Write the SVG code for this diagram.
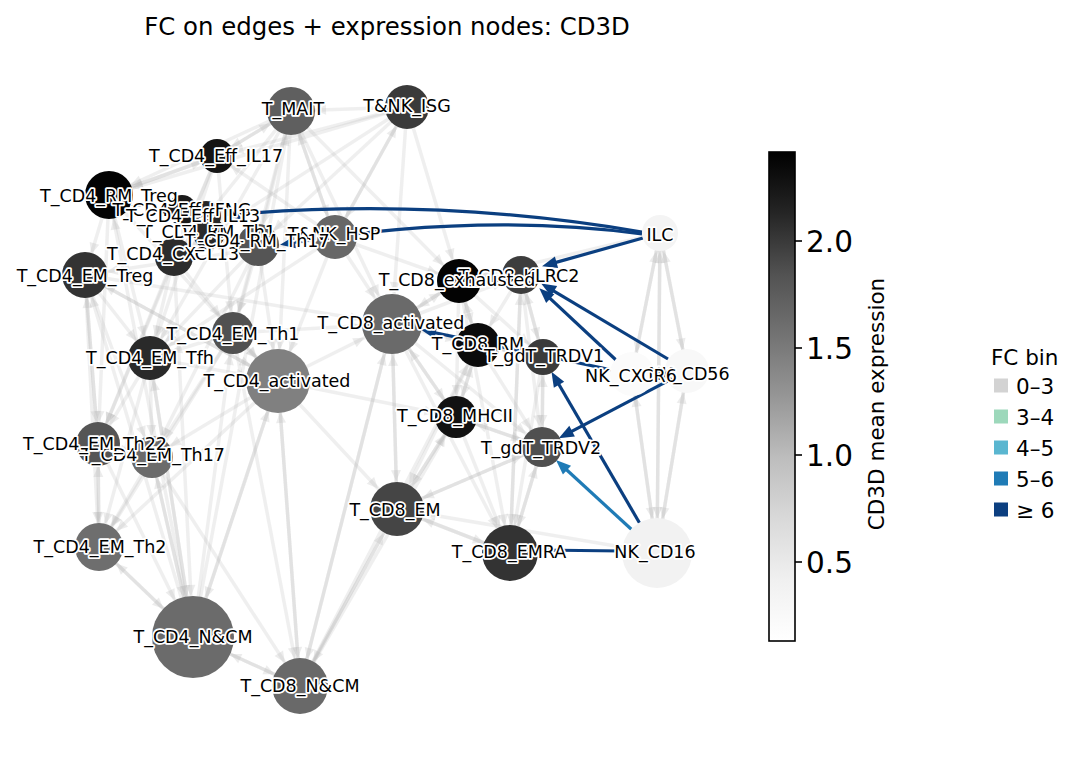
<svg xmlns="http://www.w3.org/2000/svg" width="1085" height="763" viewBox="0 0 1085 763">
<defs>
<style>
.g{stroke:#b4b4b4;stroke-opacity:.22;stroke-width:3.5;fill:none}
.b6{stroke:#0b3f80;stroke-width:3.2;fill:none}
.b5{stroke:#1f7bb6;stroke-width:3.2;fill:none}
.lbl{font-family:"DejaVu Sans",sans-serif;font-size:17.5px;text-anchor:middle;fill:#000;stroke:#fff;stroke-width:3.5;paint-order:stroke;stroke-linejoin:round}
.t{font-family:"DejaVu Sans",sans-serif;fill:#000}
.gh{fill:#b4b4b4;fill-opacity:.25}
</style>
<linearGradient id="greys" x1="0" y1="0" x2="0" y2="1">
<stop offset="0" stop-color="#000000"/><stop offset=".125" stop-color="#252525"/><stop offset=".25" stop-color="#525252"/><stop offset=".375" stop-color="#737373"/><stop offset=".5" stop-color="#969696"/><stop offset=".625" stop-color="#bdbdbd"/><stop offset=".75" stop-color="#d9d9d9"/><stop offset=".875" stop-color="#f0f0f0"/><stop offset="1" stop-color="#ffffff"/>
</linearGradient>
<marker id="m16" markerUnits="userSpaceOnUse" markerWidth="60" markerHeight="12" refX="27" refY="5" orient="auto" overflow="visible"><path class="gh" d="M0,0 L11,5 L0,10z"/></marker>
<marker id="m19" markerUnits="userSpaceOnUse" markerWidth="60" markerHeight="12" refX="30" refY="5" orient="auto" overflow="visible"><path class="gh" d="M0,0 L11,5 L0,10z"/></marker>
<marker id="m21" markerUnits="userSpaceOnUse" markerWidth="60" markerHeight="12" refX="32" refY="5" orient="auto" overflow="visible"><path class="gh" d="M0,0 L11,5 L0,10z"/></marker>
<marker id="m22" markerUnits="userSpaceOnUse" markerWidth="60" markerHeight="12" refX="33" refY="5" orient="auto" overflow="visible"><path class="gh" d="M0,0 L11,5 L0,10z"/></marker>
<marker id="m24" markerUnits="userSpaceOnUse" markerWidth="60" markerHeight="12" refX="35" refY="5" orient="auto" overflow="visible"><path class="gh" d="M0,0 L11,5 L0,10z"/></marker>
<marker id="m28" markerUnits="userSpaceOnUse" markerWidth="60" markerHeight="12" refX="39" refY="5" orient="auto" overflow="visible"><path class="gh" d="M0,0 L11,5 L0,10z"/></marker>
<marker id="m31" markerUnits="userSpaceOnUse" markerWidth="60" markerHeight="12" refX="42" refY="5" orient="auto" overflow="visible"><path class="gh" d="M0,0 L11,5 L0,10z"/></marker>
<marker id="m35" markerUnits="userSpaceOnUse" markerWidth="60" markerHeight="12" refX="46" refY="5" orient="auto" overflow="visible"><path class="gh" d="M0,0 L11,5 L0,10z"/></marker>
<marker id="m41" markerUnits="userSpaceOnUse" markerWidth="60" markerHeight="12" refX="52" refY="5" orient="auto" overflow="visible"><path class="gh" d="M0,0 L11,5 L0,10z"/></marker>
<marker id="a6" markerUnits="userSpaceOnUse" markerWidth="20" markerHeight="14" refX="8" refY="6" orient="auto" overflow="visible"><path d="M0,0 L15,6 L0,12z" fill="#0b3f80"/></marker>
<marker id="a5" markerUnits="userSpaceOnUse" markerWidth="20" markerHeight="14" refX="8" refY="6" orient="auto" overflow="visible"><path d="M0,0 L15,6 L0,12z" fill="#1f7bb6"/></marker>
</defs>
<rect width="1085" height="763" fill="#fff"/>
<text class="t" x="387" y="35" font-size="24.4" text-anchor="middle">FC on edges + expression nodes: CD3D</text>

<g id="connectors">
<g id="bg-edges">
<line class="g" x1="291" y1="111" x2="217" y2="156" marker-end="url(#m16)"/>
<line class="g" x1="291" y1="111" x2="109" y2="195" marker-end="url(#m24)"/>
<line class="g" x1="291" y1="111" x2="174" y2="257" marker-end="url(#m19)"/>
<line class="g" x1="291" y1="111" x2="258" y2="245" marker-end="url(#m21)"/>
<line class="g" x1="291" y1="111" x2="335" y2="237" marker-end="url(#m22)"/>
<line class="g" x1="291" y1="111" x2="233" y2="333" marker-end="url(#m21)"/>
<line class="g" x1="291" y1="111" x2="278" y2="381" marker-end="url(#m31)"/>
<line class="g" x1="291" y1="111" x2="150" y2="358" marker-end="url(#m22)"/>
<line class="g" x1="291" y1="111" x2="392" y2="324" marker-end="url(#m31)"/>
<line class="g" x1="291" y1="111" x2="459" y2="281" marker-end="url(#m22)"/>
<line class="g" x1="407" y1="107" x2="291" y2="111" marker-end="url(#m24)"/>
<line class="g" x1="407" y1="107" x2="335" y2="237" marker-end="url(#m22)"/>
<line class="g" x1="407" y1="107" x2="258" y2="245" marker-end="url(#m21)"/>
<line class="g" x1="407" y1="107" x2="392" y2="324" marker-end="url(#m31)"/>
<line class="g" x1="407" y1="107" x2="459" y2="281" marker-end="url(#m22)"/>
<line class="g" x1="407" y1="107" x2="217" y2="156" marker-end="url(#m16)"/>
<line class="g" x1="407" y1="107" x2="174" y2="257" marker-end="url(#m19)"/>
<line class="g" x1="407" y1="107" x2="109" y2="195" marker-end="url(#m24)"/>
<line class="g" x1="335" y1="237" x2="291" y2="111" marker-end="url(#m24)"/>
<line class="g" x1="335" y1="237" x2="407" y2="107" marker-end="url(#m22)"/>
<line class="g" x1="335" y1="237" x2="392" y2="324" marker-end="url(#m31)"/>
<line class="g" x1="335" y1="237" x2="459" y2="281" marker-end="url(#m22)"/>
<line class="g" x1="335" y1="237" x2="217" y2="156" marker-end="url(#m16)"/>
<line class="g" x1="335" y1="237" x2="85" y2="275" marker-end="url(#m22)"/>
<line class="g" x1="335" y1="237" x2="278" y2="381" marker-end="url(#m31)"/>
<line class="g" x1="335" y1="237" x2="150" y2="358" marker-end="url(#m22)"/>
<line class="g" x1="217" y1="156" x2="109" y2="195" marker-end="url(#m24)"/>
<line class="g" x1="217" y1="156" x2="174" y2="257" marker-end="url(#m19)"/>
<line class="g" x1="217" y1="156" x2="233" y2="333" marker-end="url(#m21)"/>
<line class="g" x1="217" y1="156" x2="150" y2="358" marker-end="url(#m22)"/>
<line class="g" x1="217" y1="156" x2="98" y2="444" marker-end="url(#m22)"/>
<line class="g" x1="217" y1="156" x2="291" y2="111" marker-end="url(#m24)"/>
<line class="g" x1="109" y1="195" x2="85" y2="275" marker-end="url(#m22)"/>
<line class="g" x1="109" y1="195" x2="150" y2="358" marker-end="url(#m22)"/>
<line class="g" x1="109" y1="195" x2="98" y2="444" marker-end="url(#m22)"/>
<line class="g" x1="109" y1="195" x2="278" y2="381" marker-end="url(#m31)"/>
<line class="g" x1="109" y1="195" x2="217" y2="156" marker-end="url(#m16)"/>
<line class="g" x1="85" y1="275" x2="98" y2="444" marker-end="url(#m22)"/>
<line class="g" x1="85" y1="275" x2="150" y2="358" marker-end="url(#m22)"/>
<line class="g" x1="85" y1="275" x2="152" y2="457" marker-end="url(#m21)"/>
<line class="g" x1="85" y1="275" x2="99" y2="547" marker-end="url(#m24)"/>
<line class="g" x1="85" y1="275" x2="278" y2="381" marker-end="url(#m31)"/>
<line class="g" x1="85" y1="275" x2="392" y2="324" marker-end="url(#m31)"/>
<line class="g" x1="174" y1="257" x2="150" y2="358" marker-end="url(#m22)"/>
<line class="g" x1="174" y1="257" x2="98" y2="444" marker-end="url(#m22)"/>
<line class="g" x1="174" y1="257" x2="233" y2="333" marker-end="url(#m21)"/>
<line class="g" x1="174" y1="257" x2="193" y2="637" marker-end="url(#m41)"/>
<line class="g" x1="258" y1="245" x2="152" y2="457" marker-end="url(#m21)"/>
<line class="g" x1="258" y1="245" x2="150" y2="358" marker-end="url(#m22)"/>
<line class="g" x1="258" y1="245" x2="278" y2="381" marker-end="url(#m31)"/>
<line class="g" x1="258" y1="245" x2="233" y2="333" marker-end="url(#m21)"/>
<line class="g" x1="233" y1="333" x2="150" y2="358" marker-end="url(#m22)"/>
<line class="g" x1="233" y1="333" x2="152" y2="457" marker-end="url(#m21)"/>
<line class="g" x1="233" y1="333" x2="278" y2="381" marker-end="url(#m31)"/>
<line class="g" x1="233" y1="333" x2="99" y2="547" marker-end="url(#m24)"/>
<line class="g" x1="233" y1="333" x2="392" y2="324" marker-end="url(#m31)"/>
<line class="g" x1="233" y1="333" x2="300" y2="686" marker-end="url(#m28)"/>
<line class="g" x1="150" y1="358" x2="98" y2="444" marker-end="url(#m22)"/>
<line class="g" x1="150" y1="358" x2="152" y2="457" marker-end="url(#m21)"/>
<line class="g" x1="150" y1="358" x2="99" y2="547" marker-end="url(#m24)"/>
<line class="g" x1="150" y1="358" x2="193" y2="637" marker-end="url(#m41)"/>
<line class="g" x1="150" y1="358" x2="278" y2="381" marker-end="url(#m31)"/>
<line class="g" x1="278" y1="381" x2="152" y2="457" marker-end="url(#m21)"/>
<line class="g" x1="278" y1="381" x2="99" y2="547" marker-end="url(#m24)"/>
<line class="g" x1="278" y1="381" x2="193" y2="637" marker-end="url(#m41)"/>
<line class="g" x1="278" y1="381" x2="300" y2="686" marker-end="url(#m28)"/>
<line class="g" x1="278" y1="381" x2="392" y2="324" marker-end="url(#m31)"/>
<line class="g" x1="278" y1="381" x2="85" y2="275" marker-end="url(#m22)"/>
<line class="g" x1="278" y1="381" x2="397" y2="509" marker-end="url(#m28)"/>
<line class="g" x1="278" y1="381" x2="456" y2="417" marker-end="url(#m21)"/>
<line class="g" x1="98" y1="444" x2="99" y2="547" marker-end="url(#m24)"/>
<line class="g" x1="98" y1="444" x2="152" y2="457" marker-end="url(#m21)"/>
<line class="g" x1="98" y1="444" x2="193" y2="637" marker-end="url(#m41)"/>
<line class="g" x1="98" y1="444" x2="85" y2="275" marker-end="url(#m22)"/>
<line class="g" x1="152" y1="457" x2="99" y2="547" marker-end="url(#m24)"/>
<line class="g" x1="152" y1="457" x2="193" y2="637" marker-end="url(#m41)"/>
<line class="g" x1="152" y1="457" x2="300" y2="686" marker-end="url(#m28)"/>
<line class="g" x1="152" y1="457" x2="98" y2="444" marker-end="url(#m22)"/>
<line class="g" x1="99" y1="547" x2="193" y2="637" marker-end="url(#m41)"/>
<line class="g" x1="99" y1="547" x2="98" y2="444" marker-end="url(#m22)"/>
<line class="g" x1="193" y1="637" x2="300" y2="686" marker-end="url(#m28)"/>
<line class="g" x1="193" y1="637" x2="99" y2="547" marker-end="url(#m24)"/>
<line class="g" x1="193" y1="637" x2="150" y2="358" marker-end="url(#m22)"/>
<line class="g" x1="193" y1="637" x2="233" y2="333" marker-end="url(#m21)"/>
<line class="g" x1="193" y1="637" x2="278" y2="381" marker-end="url(#m31)"/>
<line class="g" x1="193" y1="637" x2="109" y2="195" marker-end="url(#m24)"/>
<line class="g" x1="193" y1="637" x2="85" y2="275" marker-end="url(#m22)"/>
<line class="g" x1="193" y1="637" x2="291" y2="111" marker-end="url(#m24)"/>
<line class="g" x1="193" y1="637" x2="152" y2="457" marker-end="url(#m21)"/>
<line class="g" x1="300" y1="686" x2="392" y2="324" marker-end="url(#m31)"/>
<line class="g" x1="300" y1="686" x2="397" y2="509" marker-end="url(#m28)"/>
<line class="g" x1="300" y1="686" x2="456" y2="417" marker-end="url(#m21)"/>
<line class="g" x1="300" y1="686" x2="278" y2="381" marker-end="url(#m31)"/>
<line class="g" x1="300" y1="686" x2="193" y2="637" marker-end="url(#m41)"/>
<line class="g" x1="300" y1="686" x2="478" y2="345" marker-end="url(#m22)"/>
<line class="g" x1="392" y1="324" x2="459" y2="281" marker-end="url(#m22)"/>
<line class="g" x1="392" y1="324" x2="478" y2="345" marker-end="url(#m22)"/>
<line class="g" x1="392" y1="324" x2="456" y2="417" marker-end="url(#m21)"/>
<line class="g" x1="392" y1="324" x2="397" y2="509" marker-end="url(#m28)"/>
<line class="g" x1="392" y1="324" x2="300" y2="686" marker-end="url(#m28)"/>
<line class="g" x1="392" y1="324" x2="510" y2="553" marker-end="url(#m28)"/>
<line class="g" x1="392" y1="324" x2="521" y2="275" marker-end="url(#m19)"/>
<line class="g" x1="392" y1="324" x2="542" y2="447" marker-end="url(#m21)"/>
<line class="g" x1="459" y1="281" x2="478" y2="345" marker-end="url(#m22)"/>
<line class="g" x1="459" y1="281" x2="521" y2="275" marker-end="url(#m19)"/>
<line class="g" x1="459" y1="281" x2="456" y2="417" marker-end="url(#m21)"/>
<line class="g" x1="459" y1="281" x2="392" y2="324" marker-end="url(#m31)"/>
<line class="g" x1="459" y1="281" x2="543" y2="357" marker-end="url(#m19)"/>
<line class="g" x1="459" y1="281" x2="510" y2="553" marker-end="url(#m28)"/>
<line class="g" x1="521" y1="275" x2="543" y2="357" marker-end="url(#m19)"/>
<line class="g" x1="521" y1="275" x2="478" y2="345" marker-end="url(#m22)"/>
<line class="g" x1="521" y1="275" x2="459" y2="281" marker-end="url(#m22)"/>
<line class="g" x1="521" y1="275" x2="542" y2="447" marker-end="url(#m21)"/>
<line class="g" x1="521" y1="275" x2="510" y2="553" marker-end="url(#m28)"/>
<line class="g" x1="478" y1="345" x2="456" y2="417" marker-end="url(#m21)"/>
<line class="g" x1="478" y1="345" x2="543" y2="357" marker-end="url(#m19)"/>
<line class="g" x1="478" y1="345" x2="397" y2="509" marker-end="url(#m28)"/>
<line class="g" x1="478" y1="345" x2="459" y2="281" marker-end="url(#m22)"/>
<line class="g" x1="478" y1="345" x2="542" y2="447" marker-end="url(#m21)"/>
<line class="g" x1="543" y1="357" x2="542" y2="447" marker-end="url(#m21)"/>
<line class="g" x1="543" y1="357" x2="521" y2="275" marker-end="url(#m19)"/>
<line class="g" x1="543" y1="357" x2="510" y2="553" marker-end="url(#m28)"/>
<line class="g" x1="543" y1="357" x2="478" y2="345" marker-end="url(#m22)"/>
<line class="g" x1="456" y1="417" x2="397" y2="509" marker-end="url(#m28)"/>
<line class="g" x1="456" y1="417" x2="510" y2="553" marker-end="url(#m28)"/>
<line class="g" x1="456" y1="417" x2="478" y2="345" marker-end="url(#m22)"/>
<line class="g" x1="456" y1="417" x2="542" y2="447" marker-end="url(#m21)"/>
<line class="g" x1="456" y1="417" x2="392" y2="324" marker-end="url(#m31)"/>
<line class="g" x1="542" y1="447" x2="510" y2="553" marker-end="url(#m28)"/>
<line class="g" x1="542" y1="447" x2="397" y2="509" marker-end="url(#m28)"/>
<line class="g" x1="542" y1="447" x2="543" y2="357" marker-end="url(#m19)"/>
<line class="g" x1="542" y1="447" x2="456" y2="417" marker-end="url(#m21)"/>
<line class="g" x1="397" y1="509" x2="510" y2="553" marker-end="url(#m28)"/>
<line class="g" x1="397" y1="509" x2="392" y2="324" marker-end="url(#m31)"/>
<line class="g" x1="397" y1="509" x2="456" y2="417" marker-end="url(#m21)"/>
<line class="g" x1="397" y1="509" x2="300" y2="686" marker-end="url(#m28)"/>
<line class="g" x1="397" y1="509" x2="542" y2="447" marker-end="url(#m21)"/>
<line class="g" x1="510" y1="553" x2="397" y2="509" marker-end="url(#m28)"/>
<line class="g" x1="510" y1="553" x2="542" y2="447" marker-end="url(#m21)"/>
<line class="g" x1="510" y1="553" x2="521" y2="275" marker-end="url(#m19)"/>
<line class="g" x1="660" y1="233" x2="632" y2="374" marker-end="url(#m22)"/>
<line class="g" x1="660" y1="233" x2="687" y2="371" marker-end="url(#m22)"/>
<line class="g" x1="660" y1="233" x2="657" y2="553" marker-end="url(#m35)"/>
<line class="g" x1="632" y1="374" x2="660" y2="233" marker-end="url(#m19)"/>
<line class="g" x1="687" y1="371" x2="660" y2="233" marker-end="url(#m19)"/>
<line class="g" x1="657" y1="553" x2="660" y2="233" marker-end="url(#m19)"/>
<line class="g" x1="657" y1="553" x2="632" y2="374" marker-end="url(#m22)"/>
<line class="g" x1="657" y1="553" x2="687" y2="371" marker-end="url(#m22)"/>
<line class="g" x1="632" y1="374" x2="657" y2="553" marker-end="url(#m35)"/>
<line class="g" x1="687" y1="371" x2="657" y2="553" marker-end="url(#m35)"/>
<line class="g" x1="660" y1="233" x2="459" y2="281" marker-end="url(#m22)"/>
<line class="g" x1="657" y1="553" x2="397" y2="509" marker-end="url(#m28)"/>
</g>
<g id="fc-edges">
<path class="b6" d="M642,232 Q440,197 232,214.5" marker-end="url(#a6)"/>
<path class="b6" d="M642,234 Q480,212 287,243.5" marker-end="url(#a6)"/>
<line class="b6" x1="643" y1="238" x2="548.8" y2="264.4" marker-end="url(#a6)"/>
<line class="b6" x1="616" y1="360" x2="544.4" y2="293.1" marker-end="url(#a6)"/>
<line class="b6" x1="668" y1="359" x2="547.2" y2="287.1" marker-end="url(#a6)"/>
<line class="b6" x1="612" y1="370" x2="427.9" y2="331.2" marker-end="url(#a6)"/>
<line class="b6" x1="667.5" y1="381.2" x2="565" y2="434.9" marker-end="url(#a6)"/>
<line class="b6" x1="639.4" y1="522.7" x2="555" y2="377.8" marker-end="url(#a6)"/>
<line class="b5" x1="631.3" y1="529.3" x2="561.1" y2="464.7" marker-end="url(#a5)"/>
<line class="b6" x1="538" y1="550" x2="622" y2="551"/>
</g>
</g>

<g id="nodes">
<g id="node-T_MAIT"><circle cx="291" cy="111" r="24" fill="#5f5f5f"/></g>
<g id="node-T_NK_ISG"><circle cx="407" cy="107" r="22" fill="#3a3a3a"/></g>
<g id="node-T_CD4_Eff_IL17"><circle cx="217" cy="156" r="17" fill="#141414"/></g>
<g id="node-T_CD4_RM_Treg"><circle cx="109" cy="195" r="24" fill="#030303"/></g>
<g id="node-T_CD4_Eff_IFNG"><circle cx="182" cy="210" r="15" fill="#1a1a1a"/></g>
<g id="node-T_CD4_Eff_IL13"><circle cx="206" cy="216" r="15" fill="#262626"/></g>
<g id="node-T_CD4_RM_Th1"><circle cx="209" cy="233" r="16" fill="#2a2a2a"/></g>
<g id="node-T_CD4_RM_Th17"><circle cx="258" cy="245" r="21" fill="#555555"/></g>
<g id="node-T_NK_HSP"><circle cx="335" cy="237" r="22" fill="#676767"/></g>
<g id="node-T_CD4_CXCL13"><circle cx="174" cy="257" r="19" fill="#2c2c2c"/></g>
<g id="node-T_CD4_EM_Treg"><circle cx="85" cy="275" r="23" fill="#333333"/></g>
<g id="node-T_CD4_EM_Th1"><circle cx="233" cy="333" r="21" fill="#515151"/></g>
<g id="node-T_CD4_EM_Tfh"><circle cx="150" cy="358" r="22" fill="#2a2a2a"/></g>
<g id="node-T_CD4_activated"><circle cx="278" cy="381" r="32" fill="#808080"/></g>
<g id="node-T_CD4_EM_Th22"><circle cx="98" cy="444" r="22" fill="#555555"/></g>
<g id="node-T_CD4_EM_Th17"><circle cx="152" cy="457" r="21" fill="#6b6b6b"/></g>
<g id="node-T_CD4_EM_Th2"><circle cx="99" cy="547" r="24" fill="#6e6e6e"/></g>
<g id="node-T_CD4_N_CM"><circle cx="193" cy="637" r="41" fill="#6b6b6b"/></g>
<g id="node-T_CD8_N_CM"><circle cx="300" cy="686" r="28" fill="#696969"/></g>
<g id="node-T_CD8_activated"><circle cx="392" cy="324" r="30" fill="#6a6a6a"/></g>
<g id="node-T_CD8_exhausted"><circle cx="459" cy="281" r="22" fill="#030303"/></g>
<g id="node-T_CD8_KLRC2"><circle cx="521" cy="275" r="19" fill="#3d3d3d"/></g>
<g id="node-T_CD8_RM"><circle cx="478" cy="345" r="22" fill="#0b0b0b"/></g>
<g id="node-T_gdT_TRDV1"><circle cx="543" cy="357" r="18" fill="#3b3b3b"/></g>
<g id="node-T_CD8_MHCII"><circle cx="456" cy="417" r="21" fill="#121212"/></g>
<g id="node-T_gdT_TRDV2"><circle cx="542" cy="447" r="20" fill="#505050"/></g>
<g id="node-T_CD8_EM"><circle cx="397" cy="509" r="27" fill="#454545"/></g>
<g id="node-T_CD8_EMRA"><circle cx="510" cy="553" r="28" fill="#333333"/></g>
<g id="node-NK_CD16"><circle cx="657" cy="553" r="35" fill="#f2f2f2"/></g>
<g id="node-ILC"><circle cx="660" cy="233" r="18" fill="#f4f4f4"/></g>
<g id="node-NK_CXCR6"><circle cx="632" cy="374" r="22" fill="#fbfbfb"/></g>
<g id="node-NK_CD56"><circle cx="687" cy="371" r="22" fill="#f8f8f8"/></g>
</g>

<g id="labels">
<text class="lbl" x="293" y="114.5">T_MAIT</text>
<text class="lbl" x="407" y="111.5">T&amp;NK_ISG</text>
<text class="lbl" x="216" y="161.5">T_CD4_Eff_IL17</text>
<text class="lbl" x="109" y="201.5">T_CD4_RM_Treg</text>
<text class="lbl" x="334" y="239.5">T&amp;NK_HSP</text>
<text class="lbl" x="209" y="237.5">T_CD4_RM_Th1</text>
<text class="lbl" x="173" y="259.5">T_CD4_CXCL13</text>
<text class="lbl" x="257" y="246.5">T_CD4_RM_Th17</text>
<text class="lbl" x="182" y="215.5">T_CD4_Eff_IFNG</text>
<text class="lbl" x="193" y="221.5">T_CD4_Eff_IL13</text>
<text class="lbl" x="85" y="281.5">T_CD4_EM_Treg</text>
<text class="lbl" x="233" y="339.5">T_CD4_EM_Th1</text>
<text class="lbl" x="150" y="363.5">T_CD4_EM_Tfh</text>
<text class="lbl" x="277" y="386.5">T_CD4_activated</text>
<text class="lbl" x="153" y="460.5">T_CD4_EM_Th17</text>
<text class="lbl" x="95" y="449.5">T_CD4_EM_Th22</text>
<text class="lbl" x="100" y="552.5">T_CD4_EM_Th2</text>
<text class="lbl" x="193" y="642.5">T_CD4_N&amp;CM</text>
<text class="lbl" x="300" y="691.5">T_CD8_N&amp;CM</text>
<text class="lbl" x="391" y="328.5">T_CD8_activated</text>
<text class="lbl" x="519" y="281.5">T_CD8_KLRC2</text>
<text class="lbl" x="457" y="285.5">T_CD8_exhausted</text>
<text class="lbl" x="478" y="349.5">T_CD8_RM</text>
<text class="lbl" x="544" y="361.5">T_gdT_TRDV1</text>
<text class="lbl" x="455" y="421.5">T_CD8_MHCII</text>
<text class="lbl" x="541" y="453.5">T_gdT_TRDV2</text>
<text class="lbl" x="395" y="515.5">T_CD8_EM</text>
<text class="lbl" x="509" y="557.5">T_CD8_EMRA</text>
<text class="lbl" x="655" y="557.5">NK_CD16</text>
<text class="lbl" x="660" y="240.5">ILC</text>
<text class="lbl" x="689" y="379.5">NK_CD56</text>
<text class="lbl" x="631" y="381.5">NK_CXCR6</text>
</g>

<g id="colorbar">
<rect x="769" y="152" width="26" height="489" fill="url(#greys)" stroke="#000" stroke-width="1.6"/>
<g stroke="#000" stroke-width="1.6">
<line x1="795" y1="241" x2="802" y2="241"/><line x1="795" y1="348" x2="802" y2="348"/><line x1="795" y1="455" x2="802" y2="455"/><line x1="795" y1="562" x2="802" y2="562"/>
</g>
<g class="t" font-size="29.5">
<text x="806" y="251.5">2.0</text><text x="806" y="358.5">1.5</text><text x="806" y="465.5">1.0</text><text x="806" y="572.5">0.5</text>
</g>
<text class="t" font-size="21.5" text-anchor="middle" transform="translate(884,404) rotate(-90)">CD3D mean expression</text>
</g>

<g id="legend">
<text class="t" x="991" y="365" font-size="21.5">FC bin</text>
<rect x="994" y="378.5" width="14" height="14" fill="#d3d3d3"/>
<rect x="994" y="409.5" width="14" height="14" fill="#9dd8bb"/>
<rect x="994" y="440.5" width="14" height="14" fill="#5ab6d0"/>
<rect x="994" y="471.5" width="14" height="14" fill="#1f7bb6"/>
<rect x="994" y="502.5" width="14" height="14" fill="#0c3f80"/>
<g class="t" font-size="21.5">
<text x="1016" y="393.5">0–3</text>
<text x="1016" y="424.5">3–4</text>
<text x="1016" y="455.5">4–5</text>
<text x="1016" y="486.5">5–6</text>
<text x="1016" y="517.5">≥ 6</text>
</g>
</g>
</svg>
